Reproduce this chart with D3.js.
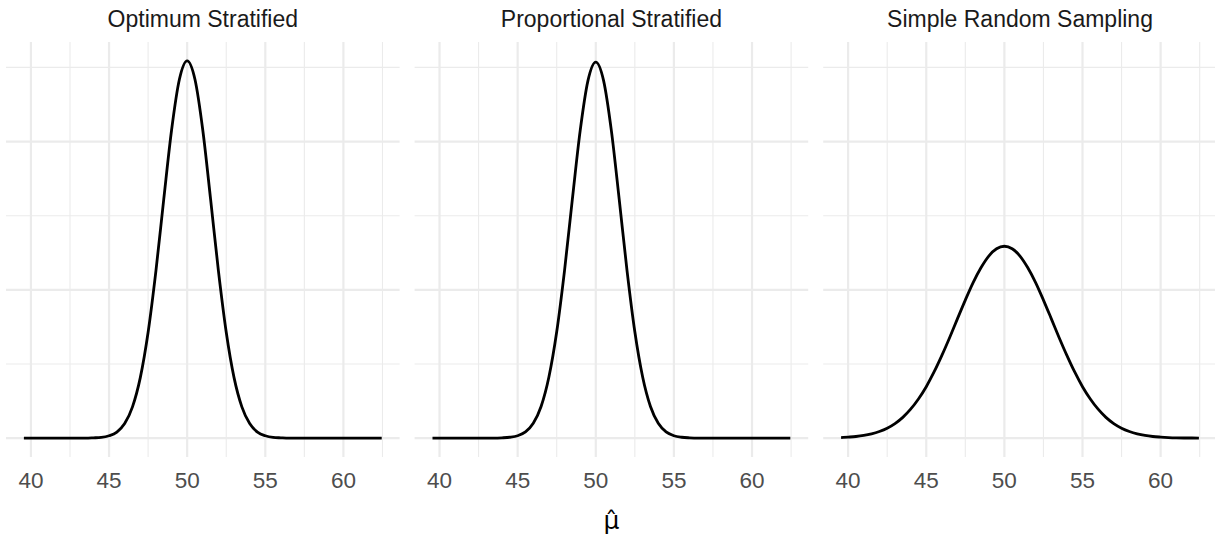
<!DOCTYPE html>
<html>
<head>
<meta charset="utf-8">
<script src="https://cdn.jsdelivr.net/npm/d3@7"></script>
<style>
  body { margin: 0; background: #fff; }
  text { font-family: "Liberation Sans", Arial, sans-serif; }
</style>
</head>
<body>
<svg id="chart"></svg>
<script>
// facet titles
const panels = ["Optimum Stratified", "Proportional Stratified", "Simple Random Sampling"];

const xs = [39.55, 40, 40.5, 41, 41.5, 42, 42.5, 43, 43.5, 44, 44.5, 45, 45.5, 46, 46.5, 47, 47.5, 48, 48.5, 49, 49.5,
            50, 50.5, 51, 51.5, 52, 52.5, 53, 53.5, 54, 54.5, 55, 55.5, 56, 56.5, 57, 57.5, 58, 58.5, 59, 59.5,
            60, 60.5, 61, 61.5, 62, 62.45];

// densities for each facet
const optimum = [0, 0, 0, 0, 0, 0, 0, 0, 0, 0.0002, 0.0005, 0.0016, 0.0041, 0.0098, 0.0211, 0.0408, 0.0714, 0.1128, 0.1610, 0.2076, 0.2418,
                 0.2544, 0.2418, 0.2076, 0.1610, 0.1128, 0.0714, 0.0408, 0.0211, 0.0098, 0.0041, 0.0016, 0.0005, 0.0002, 0, 0, 0, 0, 0, 0, 0,
                 0, 0, 0, 0, 0, 0];
const proportional = [0, 0, 0, 0, 0, 0, 0, 0, 0, 0.0002, 0.0006, 0.0016, 0.0042, 0.0100, 0.0213, 0.0412, 0.0717, 0.1130, 0.1610, 0.2072, 0.2411,
                      0.2536, 0.2411, 0.2072, 0.1610, 0.1130, 0.0717, 0.0412, 0.0213, 0.0100, 0.0042, 0.0016, 0.0006, 0.0002, 0, 0, 0, 0, 0, 0, 0,
                      0, 0, 0, 0, 0, 0];
const srs = [0.0004, 0.0007, 0.0011, 0.0018, 0.0029, 0.0045, 0.0067, 0.0098, 0.0140, 0.0195, 0.0264, 0.0347, 0.0446, 0.0558, 0.0679, 0.0806, 0.0931, 0.1049, 0.1149, 0.1228, 0.1277,
             0.1294, 0.1277, 0.1228, 0.1149, 0.1049, 0.0931, 0.0806, 0.0679, 0.0558, 0.0446, 0.0347, 0.0264, 0.0195, 0.0140, 0.0098, 0.0067, 0.0045, 0.0029, 0.0018, 0.0011,
             0.0007, 0.0004, 0.0002, 0.0001, 0.0001, 0.0000];
const series = [optimum, proportional, srs];

const xTicks = [40, 45, 50, 55, 60];
const xMinor = [42.5, 47.5, 52.5, 57.5, 62.5];
const yMajor = [0, 0.1, 0.2];
const yMinor = [0.05, 0.15, 0.25];

const width = 1215;
const height = 539;
const panelW = 393.6;
const panelGap = 15;
const panelTop = 42;
const panelBottom = 457;
const left0 = 6;

const svg = d3.select('#chart')
    .attr('width', width)
    .attr('height', height);

// ggplot-style 5% expansion
const xExt = d3.extent(xs);
const xPad = (xExt[1] - xExt[0]) * 0.05;
const x = d3.scaleLinear()
    .domain([xExt[0] - xPad, xExt[1] + xPad])
    .range([0, panelW]);

const yMax = d3.max(series, s => d3.max(s));
const yPad = yMax * 0.05;
const y = d3.scaleLinear()
    .domain([-yPad, yMax + yPad])
    .range([panelBottom, panelTop]);

const line = d3.line()
    .x((d, i) => x(xs[i]))
    .y(d => y(d))
    .curve(d3.curveMonotoneX);

panels.forEach((title, p) => {
    const g = svg.append('g')
        .attr('transform', `translate(${left0 + p * (panelW + panelGap)},0)`);

    // minor grid
    g.selectAll('.vminor').data(xMinor).enter().append('line')
        .attr('x1', d => x(d)).attr('x2', d => x(d))
        .attr('y1', panelTop).attr('y2', panelBottom)
        .attr('stroke', '#ebebeb').attr('stroke-width', 1.1);
    g.selectAll('.hminor').data(yMinor).enter().append('line')
        .attr('x1', 0).attr('x2', panelW)
        .attr('y1', d => y(d)).attr('y2', d => y(d))
        .attr('stroke', '#ebebeb').attr('stroke-width', 1.1);

    // major grid
    g.selectAll('.vmajor').data(xTicks).enter().append('line')
        .attr('x1', d => x(d)).attr('x2', d => x(d))
        .attr('y1', panelTop).attr('y2', panelBottom)
        .attr('stroke', '#ebebeb').attr('stroke-width', 2.2);
    g.selectAll('.hmajor').data(yMajor).enter().append('line')
        .attr('x1', 0).attr('x2', panelW)
        .attr('y1', d => y(d)).attr('y2', d => y(d))
        .attr('stroke', '#ebebeb').attr('stroke-width', 2.2);

    // density curve
    g.append('path')
        .datum(series[p])
        .attr('d', line)
        .attr('fill', 'none')
        .attr('stroke', '#000')
        .attr('stroke-width', 2.8);

    // tick labels
    g.selectAll('.tick').data(xTicks).enter().append('text')
        .attr('x', d => x(d))
        .attr('y', 488)
        .attr('text-anchor', 'middle')
        .attr('fill', '#4d4d4d')
        .style('font-size', '22.5px')
        .text(d => d);

    // strip title
    g.append('text')
        .attr('x', panelW / 2)
        .attr('y', 27)
        .attr('text-anchor', 'middle')
        .attr('fill', '#1a1a1a')
        .style('font-size', '23px')
        .text(title);
});

// x axis title: mu hat as one string with a combining circumflex
const xLabelX = left0 + (3 * panelW + 2 * panelGap) / 2;
svg.append('text')
    .attr('x', xLabelX)
    .attr('y', 529)
    .attr('text-anchor', 'middle')
    .attr('fill', '#000')
    .style('font-family', '"DejaVu Sans", sans-serif')
    .style('font-size', '25px')
    .text('\u03bc\u0302');
</script>
</body>
</html>
